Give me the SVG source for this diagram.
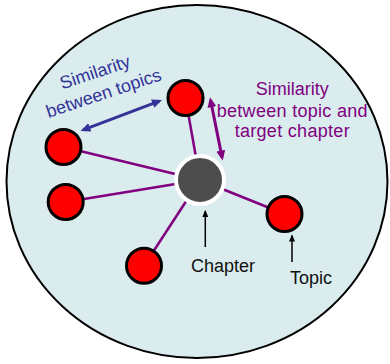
<svg xmlns="http://www.w3.org/2000/svg" width="390" height="364" viewBox="0 0 390 364">
  <style>
    .topic { fill: #ff0000; stroke: #000000; stroke-width: 3; }
    .chapter { fill: #4d4d4d; stroke: #ffffff; stroke-width: 4; }
    .edge { stroke: #800080; stroke-width: 2.5; fill: none; }
    .lbl { font-family: "Liberation Sans", Arial, sans-serif; font-size: 18px; }
  </style>
  <defs>
    <marker id="ahBlue" markerUnits="userSpaceOnUse" markerWidth="11" markerHeight="9" refX="7" refY="4.5" orient="auto-start-reverse" viewBox="0 0 11 9">
      <path d="M0,0 L10,4.5 L0,9 z" fill="#333399"/>
    </marker>
    <marker id="ahPurple" markerUnits="userSpaceOnUse" markerWidth="11" markerHeight="9" refX="7" refY="4.5" orient="auto-start-reverse" viewBox="0 0 11 9">
      <path d="M0,0 L10,4.5 L0,9 z" fill="#800080"/>
    </marker>
    <marker id="ahBlack" markerUnits="userSpaceOnUse" markerWidth="8" markerHeight="6" refX="6" refY="3" orient="auto" viewBox="0 0 8 6">
      <path d="M0,0 L7,3 L0,6 z" fill="#000000"/>
    </marker>
  </defs>

  <ellipse id="space" cx="197" cy="181.5" rx="190.5" ry="176.5" fill="#daecee" stroke="#000000" stroke-width="2"/>

  <g id="connectors">
    <line class="edge" x1="200" y1="180" x2="185.5" y2="98"/>
    <line class="edge" x1="200" y1="180" x2="63.5" y2="147"/>
    <line class="edge" x1="200" y1="180" x2="65.7" y2="202"/>
    <line class="edge" x1="200" y1="180" x2="144" y2="265.7"/>
    <line class="edge" x1="200" y1="180" x2="284.5" y2="214"/>
    <line x1="83.3" y1="129.9" x2="159.2" y2="101.1" stroke="#333399" stroke-width="3" marker-start="url(#ahBlue)" marker-end="url(#ahBlue)"/>
    <line x1="210.6" y1="100.2" x2="222.1" y2="157.6" stroke="#800080" stroke-width="3" marker-start="url(#ahPurple)" marker-end="url(#ahPurple)"/>
    <line x1="205.3" y1="247" x2="205.3" y2="211" stroke="#000000" stroke-width="1.5" marker-end="url(#ahBlack)"/>
    <line x1="292" y1="262" x2="292" y2="235.5" stroke="#000000" stroke-width="1.5" marker-end="url(#ahBlack)"/>
  </g>

  <g id="topic-top"><circle class="topic" cx="185.5" cy="98" r="17.5"/></g>
  <g id="topic-left-top"><circle class="topic" cx="63.5" cy="147" r="17.5"/></g>
  <g id="topic-left-mid"><circle class="topic" cx="65.7" cy="202" r="17.5"/></g>
  <g id="topic-bottom"><circle class="topic" cx="144" cy="265.7" r="17.5"/></g>
  <g id="topic-right"><circle class="topic" cx="284.5" cy="214" r="17.5"/></g>
  <g id="chapter"><circle class="chapter" cx="200" cy="180" r="24"/></g>

  <g id="label-topics" class="lbl" fill="#333399" text-anchor="middle" transform="rotate(-18.5 97 78)">
    <text x="97" y="78">Similarity</text>
    <text x="98.5" y="100.5">between topics</text>
  </g>
  <g id="label-chapter-sim" class="lbl" fill="#800080" text-anchor="middle">
    <text x="292.3" y="95">Similarity</text>
    <text x="292.3" y="116.7" letter-spacing="0.3">between topic and</text>
    <text x="292.3" y="137" letter-spacing="0.3">target chapter</text>
  </g>
  <g id="label-chapter" class="lbl" fill="#111111" text-anchor="middle">
    <text x="223" y="272">Chapter</text>
  </g>
  <g id="label-topic" class="lbl" fill="#111111" text-anchor="middle">
    <text x="311" y="283.5">Topic</text>
  </g>
</svg>
